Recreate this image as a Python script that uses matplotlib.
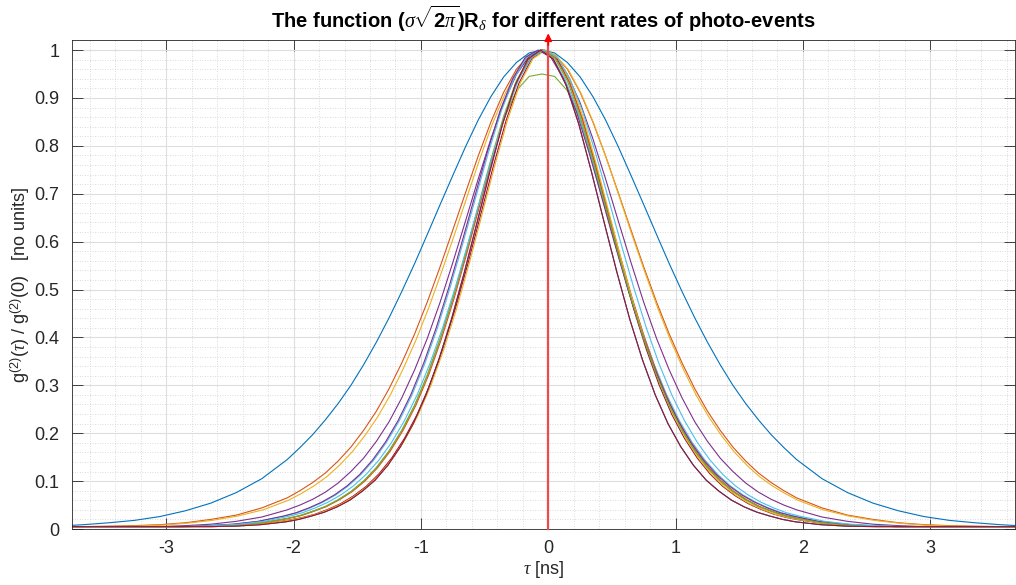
import numpy as np
import matplotlib
matplotlib.use("Agg")
import matplotlib.pyplot as plt
from matplotlib.ticker import MultipleLocator, FixedLocator

plt.rcParams['font.family'] = ['Liberation Sans', 'DejaVu Sans']
plt.rcParams['mathtext.fontset'] = 'custom'
plt.rcParams['mathtext.rm'] = 'Liberation Sans'
plt.rcParams['mathtext.it'] = 'Liberation Serif:italic'
plt.rcParams['mathtext.bf'] = 'Liberation Sans:bold'
plt.rcParams['axes.unicode_minus'] = False

# distance from the peak (ns), one side of each curve
D_NS = [0, 0.1, 0.2, 0.3, 0.4, 0.5, 0.6, 0.7, 0.8, 0.9, 1.0, 1.1, 1.2, 1.3, 1.4,
        1.5, 1.6, 1.7, 1.8, 1.9, 2.0, 2.2, 2.4, 2.6, 2.8, 3.0, 3.2, 3.4, 3.6, 3.8]

# normalised g2 profiles
WIDE = [1, .994, .974, .944, .903, .854, .798, .738, .677, .615, .554, .496, .441, .390, .343,
        .300, .262, .228, .197, .170, .145, .105, .076, .054, .038, .026, .018, .013, .009, .006]
MID1 = [1, .990, .960, .912, .850, .779, .702, .624, .547, .474, .407, .347, .293, .246, .206,
        .171, .142, .117, .097, .080, .065, .044, .029, .020, .013, .009, .007, .006, .005, .005]
MID2 = [1, .989, .958, .908, .845, .771, .692, .612, .535, .461, .394, .334, .280, .234, .195,
        .161, .133, .109, .090, .074, .060, .040, .027, .018, .012, .008, .006, .005, .005, .005]
MID3 = [1, .987, .949, .890, .815, .731, .643, .556, .473, .398, .332, .274, .224, .183, .148,
        .120, .096, .077, .062, .050, .040, .025, .016, .010, .007, .005, .005, .005, .005, .005]
NAR_A = [1, .985, .940, .872, .786, .692, .597, .505, .420, .345, .280, .226, .181, .144, .114,
         .090, .071, .056, .044, .034, .027, .016, .010, .007, .005, .005, .005, .005, .005, .005]
NAR_B = [1, .983, .936, .862, .772, .674, .575, .481, .396, .321, .258, .206, .163, .128, .100,
         .078, .061, .047, .037, .028, .022, .013, .008, .006, .005, .005, .005, .005, .005, .005]
NAR_C = [1, .982, .931, .854, .759, .657, .555, .460, .375, .301, .239, .189, .148, .115, .089,
         .069, .053, .041, .031, .024, .019, .011, .007, .005, .005, .005, .005, .005, .005, .005]
NAR_D = [1, .981, .927, .845, .745, .639, .535, .438, .353, .280, .220, .172, .133, .102, .079,
         .060, .046, .035, .027, .020, .015, .009, .006, .005, .005, .005, .005, .005, .005, .005]
NAR_LOW = [.95, .945, .915, .855, .765, .668, .572, .480, .396, .321, .258, .206, .163, .128, .100,
           .078, .061, .047, .037, .028, .022, .013, .008, .006, .005, .005, .005, .005, .005, .005]

# plotting order = matlab colour order
PROFILES = [WIDE, MID1, MID2, MID3, NAR_LOW, NAR_A, NAR_C, NAR_D, NAR_B, NAR_C,
            NAR_A, NAR_B, NAR_A, NAR_D]
PEAKS = [-0.05, -0.05, -0.04, -0.05, -0.05, -0.07, -0.03, -0.06, -0.04, -0.02,
         -0.08, -0.05, -0.03, -0.06]
COLORS = ['#0072BD', '#D95319', '#EDB120', '#7E2F8E', '#77AC30', '#4DBEEE', '#A2142F']

ARROW_TAU = 0.0
ARROW_TOP = 1.035

fig = plt.figure(figsize=(10.16, 5.85), dpi=100)
ax = fig.add_axes([72/1016, 56/585, 943/1016, 489/585])

d = np.array(D_NS)
for i, (prof, pk) in enumerate(zip(PROFILES, PEAKS)):
    v = np.array(prof)
    tau = np.concatenate([pk - d[::-1], pk + d[1:]])
    val = np.concatenate([v[::-1], v[1:]])
    ax.plot(tau, val, color=COLORS[i % len(COLORS)], lw=0.8)

# red marker at tau = 0
ax.plot([ARROW_TAU, ARROW_TAU], [0, ARROW_TOP - 0.02], color='#ee4a4a', lw=1.6,
        clip_on=False, zorder=5)
ax.annotate('', xy=(ARROW_TAU, ARROW_TOP), xytext=(ARROW_TAU, ARROW_TOP - 0.025),
            arrowprops=dict(arrowstyle='-|>', color='red', lw=1.2, mutation_scale=11,
                            shrinkA=0, shrinkB=0),
            annotation_clip=False, zorder=6)

ax.set_xlim(-3.74, 3.665)
ax.set_ylim(0, 1.021)
ax.xaxis.set_major_locator(FixedLocator([-3, -2, -1, 0, 1, 2, 3]))
ax.xaxis.set_minor_locator(MultipleLocator(0.2))
ax.yaxis.set_major_locator(MultipleLocator(0.1))
ax.yaxis.set_minor_locator(MultipleLocator(0.02))
ax.set_yticks(np.arange(0, 1.01, 0.1))
ax.set_yticklabels(['0', '0.1', '0.2', '0.3', '0.4', '0.5', '0.6', '0.7', '0.8', '0.9', '1'])

ax.grid(which='major', color='#dedede', lw=0.8)
ax.grid(which='minor', color='#cfcfcf', lw=0.6, ls=(0, (1, 2)))
ax.set_axisbelow(True)

ax.tick_params(which='major', direction='in', length=8, width=0.6, top=True, right=True,
               labelsize=13, colors='#262626')
ax.tick_params(axis='y', pad=9)
ax.tick_params(axis='x', pad=8)
ax.tick_params(which='minor', length=0)
for s in ax.spines.values():
    s.set_color('#262626')
    s.set_linewidth(0.6)

ax.set_xlabel(r'$\tau$ [ns]', fontsize=13, color='#262626', labelpad=1)
ax.set_ylabel(r'g$^{(2)}$($\tau$) / g$^{(2)}$(0)   [no units]', fontsize=13,
              color='#262626', labelpad=2)
ax.set_title(r'The function ($\sigma\sqrt{\mathbf{2}\pi}$)R$_{\delta}$ for different rates of photo-events',
             fontsize=14.5, fontweight='bold', pad=9)

fig.savefig('out.png', dpi=100)
